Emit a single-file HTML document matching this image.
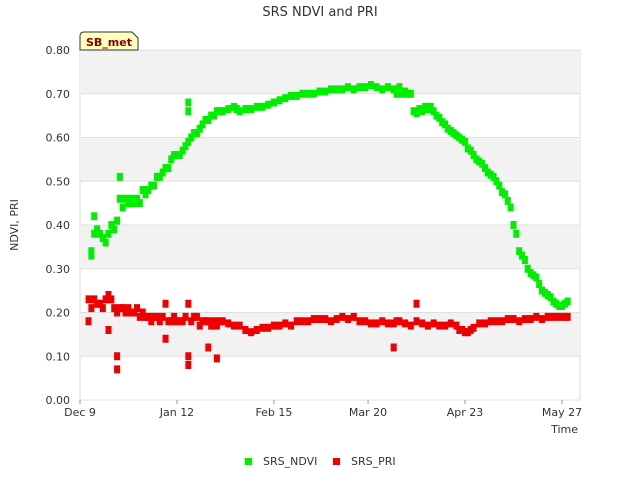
<!DOCTYPE html>
<html><head><meta charset="utf-8"><style>
body{margin:0;background:#fff;font-family:"Liberation Sans","DejaVu Sans",sans-serif;}
svg text{font-family:"DejaVu Sans","Liberation Sans",sans-serif;}
</style></head><body>
<svg id="c" width="640" height="480" xmlns="http://www.w3.org/2000/svg"></svg>
<script>
const ndviDays=[4,4,5,5,6,7,8,9,10,11,12,13,14,14,15,16,17,18,19,20,21,22,23,24,25,26,27,28,29,30,31,32,33,34,35,36,37,38,38,38,39,40,41,42,43,44,45,46,47,48,49,50,52,54,55,56,58,60,62,64,66,68,70,72,74,76,78,80,82,84,86,88,90,92,94,96,98,100,102,104,106,108,110,111,112,113,114,115,116,117,118,119,120,121,122,123,124,125,126,127,128,129,130,131,132,133,134,135,136,137,138,139,140,141,142,143,144,145,146,147,148,149,150,151,152,153,154,155,156,157,158,159,160,161,162,163,164,165,166,167,168,169,170,171];
const ndviVals=[0.33,0.34,0.42,0.38,0.39,0.38,0.37,0.36,0.38,0.40,0.39,0.41,0.51,0.46,0.44,0.46,0.45,0.46,0.45,0.46,0.45,0.48,0.47,0.48,0.49,0.49,0.51,0.51,0.52,0.53,0.53,0.55,0.56,0.56,0.56,0.57,0.58,0.59,0.66,0.68,0.60,0.61,0.61,0.62,0.63,0.64,0.64,0.65,0.65,0.66,0.66,0.66,0.665,0.67,0.665,0.66,0.665,0.665,0.67,0.67,0.675,0.68,0.685,0.69,0.695,0.695,0.70,0.70,0.70,0.705,0.705,0.71,0.71,0.71,0.715,0.71,0.715,0.715,0.72,0.715,0.71,0.715,0.71,0.70,0.715,0.70,0.705,0.70,0.70,0.66,0.655,0.665,0.66,0.67,0.665,0.67,0.66,0.65,0.645,0.635,0.63,0.62,0.615,0.61,0.605,0.60,0.595,0.59,0.575,0.57,0.56,0.55,0.545,0.54,0.53,0.52,0.515,0.51,0.50,0.49,0.475,0.47,0.455,0.44,0.40,0.38,0.34,0.33,0.32,0.30,0.29,0.285,0.28,0.265,0.25,0.245,0.24,0.235,0.225,0.22,0.215,0.215,0.22,0.225];
const priDays=[3,3,4,5,6,7,8,9,10,10,11,12,13,13,13,14,15,16,17,18,19,20,21,22,23,24,25,26,27,28,29,30,30,31,32,33,34,35,36,37,38,38,38,39,40,41,42,43,44,45,45,46,47,48,48,49,50,52,54,56,58,60,62,64,66,68,70,72,74,76,78,80,82,84,86,88,90,92,94,96,98,100,102,104,106,108,110,110,111,112,114,116,118,118,120,122,124,126,128,130,132,133,134,135,136,137,138,140,142,144,146,148,150,152,154,156,158,160,162,164,166,168,170,171];
const priVals=[0.23,0.18,0.21,0.23,0.22,0.22,0.21,0.23,0.24,0.16,0.23,0.21,0.20,0.10,0.07,0.21,0.21,0.20,0.21,0.20,0.20,0.21,0.19,0.20,0.19,0.19,0.18,0.19,0.19,0.18,0.19,0.14,0.22,0.18,0.18,0.19,0.18,0.18,0.18,0.19,0.22,0.10,0.08,0.18,0.19,0.19,0.17,0.18,0.18,0.18,0.12,0.17,0.18,0.17,0.095,0.18,0.18,0.175,0.17,0.17,0.16,0.155,0.16,0.165,0.165,0.17,0.17,0.175,0.17,0.18,0.18,0.18,0.185,0.185,0.185,0.18,0.185,0.19,0.185,0.19,0.18,0.18,0.175,0.175,0.18,0.175,0.175,0.12,0.18,0.18,0.175,0.17,0.18,0.22,0.175,0.17,0.175,0.17,0.17,0.175,0.17,0.16,0.16,0.155,0.155,0.16,0.165,0.175,0.175,0.18,0.18,0.18,0.185,0.185,0.18,0.185,0.185,0.19,0.185,0.19,0.19,0.19,0.19,0.19];
const yTicks=[0,0.1,0.2,0.3,0.4,0.5,0.6,0.7,0.8];
const xTickDays=[0,34,68,101,135,169];
const xTickLabels=["Dec 9","Jan 12","Feb 15","Mar 20","Apr 23","May 27"];
const L=80,R=580,T=50,B=400;
const X=d=>L+d*(562-80)/169;
const Y=v=>B-v*(B-T)/0.8;
const svg=document.getElementById('c');const NS="http://www.w3.org/2000/svg";
function el(t,a,txt){const e=document.createElementNS(NS,t);for(const k in a)e.setAttribute(k,a[k]);if(txt!==undefined)e.textContent=txt;svg.appendChild(e);return e;}
let bg=el('rect',{x:L,y:T,width:R-L,height:B-T,fill:'#fff',stroke:'#ddd'});

for(let i=0;i<8;i+=2){const b=el('rect',{x:L,y:Y(yTicks[i+2]),width:R-L,height:Y(yTicks[i+1])-Y(yTicks[i+2]),fill:'#f2f2f2'});
}
yTicks.forEach(v=>{const g=el('line',{x1:L,x2:R,y1:Y(v),y2:Y(v),stroke:'#e0e0e0'});
const t=el('text',{x:L-10,y:Y(v)+4,'text-anchor':'end','font-size':11,fill:'#333'},v.toFixed(2));});
xTickDays.forEach((d,i)=>{const t=el('text',{x:X(d),y:B+16,'text-anchor':'middle','font-size':11,fill:'#333'},xTickLabels[i]);
const k=el('line',{x1:X(d),x2:X(d),y1:B,y2:B+4,stroke:'#999'});});
function pts(days,vals,color,name){days.forEach((d,i)=>{const r=el('rect',{x:X(d)-3,y:Y(vals[i])-4,width:6,height:8,fill:color});});}
pts(ndviDays,ndviVals,'#00ee00','ndvi-point');
pts(priDays,priVals,'#ee0000','pri-point');
let t=el('text',{x:320,y:16,'text-anchor':'middle','font-size':13,fill:'#333'},'SRS NDVI and PRI');
t=el('text',{x:18,y:225,'text-anchor':'middle','font-size':11,fill:'#333',transform:'rotate(-90 18 225)'},'NDVI, PRI');
t=el('text',{x:578,y:433,'text-anchor':'end','font-size':11,fill:'#333'},'Time');
let p=el('path',{d:'M80,50 L80,36 Q80,32 84,32 L132,32 L138,38 L138,50 Z',fill:'#ffffc0',stroke:'#333'});
t=el('text',{x:109,y:46,'text-anchor':'middle','font-size':11,'font-weight':'bold',fill:'#8b0000'},'SB_met');
let r=el('rect',{x:245,y:458,width:7,height:7,fill:'#00ee00'});
t=el('text',{x:263,y:465,'font-size':11,fill:'#333'},'SRS_NDVI');
r=el('rect',{x:333,y:458,width:7,height:7,fill:'#ee0000'});
t=el('text',{x:351,y:465,'font-size':11,fill:'#333'},'SRS_PRI');
</script>
</body></html>
